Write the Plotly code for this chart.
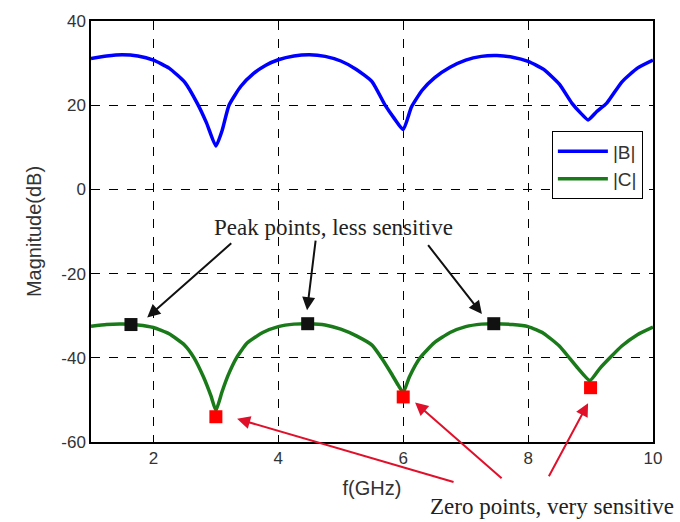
import plotly.graph_objects as go

# |B| magnitude response (dB)
f_b = [1.0, 1.25, 1.5, 1.75, 2.0, 2.25, 2.5, 2.7, 2.85, 3.0, 3.1, 3.21, 3.4, 3.6, 3.8,
       4.0, 4.25, 4.5, 4.75, 5.0, 5.25, 5.5, 5.71, 5.85, 6.0, 6.13, 6.3, 6.5, 6.75,
       7.0, 7.25, 7.5, 7.75, 8.0, 8.25, 8.5, 8.7, 8.85, 8.96, 9.1, 9.26, 9.5, 9.75, 10.0]
mag_b = [31.1, 31.7, 32.0, 31.7, 30.7, 28.8, 25.5, 20.5, 15.8, 10.3, 14.0, 20.0, 24.5, 27.5, 29.5,
         30.8, 31.7, 32.0, 31.6, 30.5, 28.5, 25.6, 20.0, 17.0, 14.2, 19.5, 23.5, 26.5, 29.0,
         30.7, 31.6, 31.8, 31.4, 30.4, 28.5, 25.0, 20.5, 18.0, 16.5, 18.5, 20.5, 25.5, 28.8, 30.7]

# |C| magnitude response (dB)
f_c = [1.0, 1.25, 1.5, 1.75, 2.0, 2.25, 2.5, 2.65, 2.8, 2.92, 3.0, 3.1, 3.2, 3.33, 3.5, 3.75,
       4.0, 4.25, 4.5, 4.75, 5.0, 5.25, 5.5, 5.65, 5.8, 5.92, 6.0, 6.1, 6.27, 6.5, 6.75,
       7.0, 7.25, 7.45, 7.75, 8.0, 8.25, 8.5, 8.66, 8.8, 8.99, 9.15, 9.31, 9.5, 9.75, 10.0]
mag_c = [-32.5, -32.1, -32.0, -32.2, -32.8, -34.3, -37.0, -40.0, -44.5, -49.0, -52.5, -48.0, -44.0, -40.0, -36.5, -34.0,
         -32.6, -32.0, -31.9, -32.2, -33.2, -34.8, -37.0, -40.0, -43.5, -46.5, -48.2, -44.5, -40.0, -36.4, -34.0,
         -32.6, -32.0, -31.9, -32.1, -32.6, -34.2, -37.2, -40.0, -42.5, -45.4, -42.5, -40.0, -37.2, -34.5, -32.7]

# highlighted points on |C|
peak_f = [1.64, 4.47, 7.45]
peak_mag = [-32.1, -31.9, -31.9]
zero_f = [3.0, 6.0, 9.0]
zero_mag = [-54.0, -49.3, -47.1]

x_ticks = [2, 4, 6, 8, 10]
y_ticks = [-60, -40, -20, 0, 20, 40]

fig = go.Figure()
fig.add_trace(go.Scatter(x=f_b, y=mag_b, mode="lines", name="|B|",
                         line=dict(color="#0000ff", width=3.5, shape="spline", smoothing=0.5)))
fig.add_trace(go.Scatter(x=f_c, y=mag_c, mode="lines", name="|C|",
                         line=dict(color="#1a7a1a", width=3.5, shape="spline", smoothing=0.5)))
fig.add_trace(go.Scatter(x=peak_f, y=peak_mag, mode="markers", showlegend=False,
                         marker=dict(symbol="square", size=13, color="#111111")))
fig.add_trace(go.Scatter(x=zero_f, y=zero_mag, mode="markers", showlegend=False,
                         marker=dict(symbol="square", size=13, color="#ff0000")))

serif = dict(family="Liberation Serif, Times New Roman, serif", size=23, color="#222222")

annotations = [
    dict(x=4.88, y=-9.0, xref="x", yref="y", text="Peak points, less sensitive",
         showarrow=False, font=serif, xanchor="center", yanchor="middle"),
    dict(x=0.82, y=-0.153, xref="paper", yref="paper", text="Zero points, very sensitive",
         showarrow=False, font=serif, xanchor="center", yanchor="middle"),
]
# black arrows toward peak markers: (tail f, tail dB, head f, head dB)
black_arrows = [(3.27, -12.5, 1.90, -30.4), (4.60, -11.8, 4.46, -28.7), (6.38, -12.9, 7.26, -29.6)]
# red arrows toward zero markers
red_arrows = [(6.83, -69.6, 3.34, -54.5), (7.60, -68.9, 6.19, -50.6), (8.32, -68.5, 8.96, -50.8)]
for tx, ty, hx, hy in black_arrows:
    annotations.append(dict(x=hx, y=hy, ax=tx, ay=ty, xref="x", yref="y", axref="x", ayref="y",
                            text="", showarrow=True, arrowhead=2, arrowsize=1.3,
                            arrowwidth=2, arrowcolor="#111111"))
for tx, ty, hx, hy in red_arrows:
    annotations.append(dict(x=hx, y=hy, ax=tx, ay=ty, xref="x", yref="y", axref="x", ayref="y",
                            text="", showarrow=True, arrowhead=2, arrowsize=1.3,
                            arrowwidth=2, arrowcolor="#e0102a"))

axis_font = dict(family="Liberation Sans, Arial, sans-serif", size=17, color="#333333")

fig.update_layout(
    width=680, height=522,
    margin=dict(l=91, r=27, t=17, b=80),
    paper_bgcolor="white", plot_bgcolor="white",
    font=axis_font,
    annotations=annotations,
    legend=dict(x=0.982, y=0.738, xanchor="right", yanchor="top",
                bgcolor="white", bordercolor="black", borderwidth=1,
                font=dict(family="Liberation Sans, Arial, sans-serif", size=19, color="#333333"),
                itemwidth=50, tracegroupgap=4),
    xaxis=dict(range=[1, 10], tickvals=x_ticks, ticktext=[str(v) for v in x_ticks],
               showgrid=True, gridcolor="black", griddash="dash", gridwidth=1,
               showline=True, linecolor="black", linewidth=1.5, mirror=True,
               ticks="inside", ticklen=5, tickcolor="black", zeroline=False,
               title=dict(text="f(GHz)", standoff=14), tickfont=axis_font),
    yaxis=dict(range=[-60, 40], tickvals=y_ticks, ticktext=[str(v) for v in y_ticks],
               showgrid=True, gridcolor="black", griddash="dash", gridwidth=1,
               showline=True, linecolor="black", linewidth=1.5, mirror=True,
               ticks="inside", ticklen=5, tickcolor="black", zeroline=False,
               title=dict(text="Magnitude(dB)", standoff=14), tickfont=axis_font),
)

fig.write_html("out.html")
